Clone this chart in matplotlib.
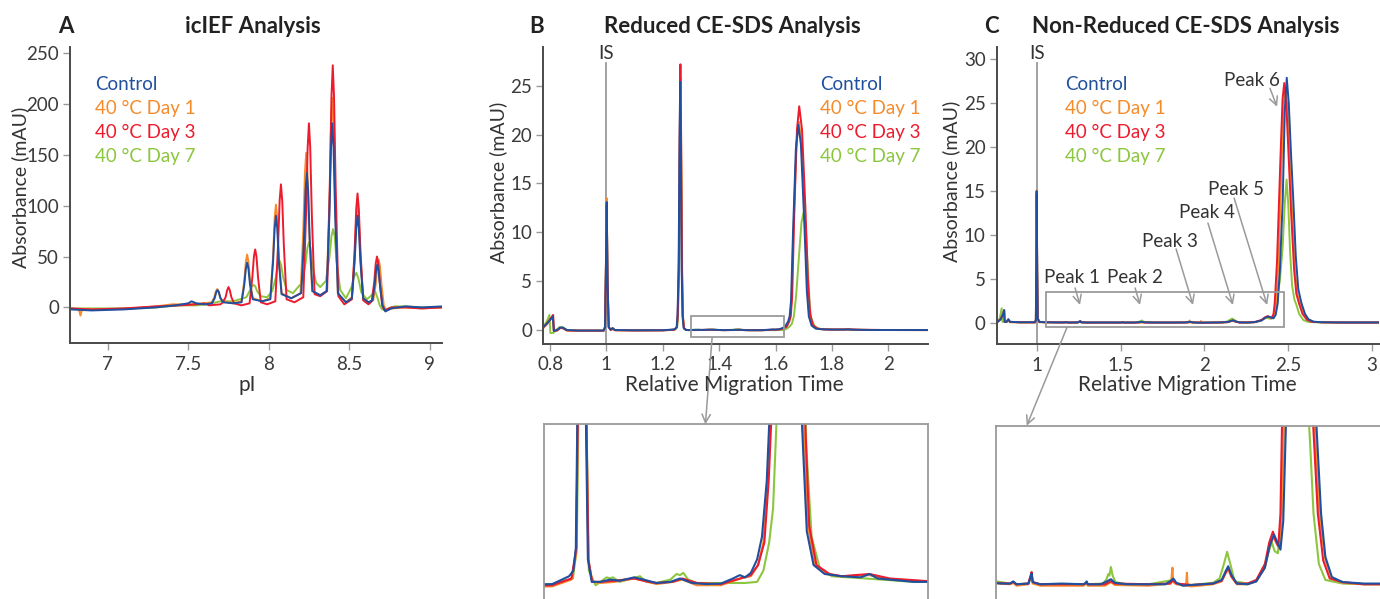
import matplotlib
matplotlib.use("Agg")
import matplotlib.pyplot as plt
import matplotlib.patches as patches
from matplotlib.patches import ConnectionPatch
from matplotlib.ticker import FuncFormatter
import numpy as np

plt.rcParams["font.family"] = ["Lato", "DejaVu Sans"]

W, H = 1380, 599

SERIES = ["Control", "40 °C Day 1", "40 °C Day 3", "40 °C Day 7"]
COLORS = {
    "Control": "#1f4f9e",
    "40 °C Day 1": "#f68b2c",
    "40 °C Day 3": "#ec1c2e",
    "40 °C Day 7": "#8cc63f",
}
DRAW_ORDER = ["40 °C Day 7", "40 °C Day 1", "40 °C Day 3", "Control"]
GRAY = "#9a9a9a"
TEXT = "#333333"

# ---- icIEF traces (pI, mAU) ----
ICIEF_CONTROL = [(6.77, -2), (6.90, -3), (7.10, -2), (7.30, 0), (7.42, 2), (7.50, 4), (7.52, 6), (7.55, 4),
                 (7.60, 3), (7.647, 4), (7.664, 9), (7.674, 15), (7.682, 17), (7.690, 15), (7.700, 9),
                 (7.717, 5), (7.78, 4), (7.831, 5), (7.848, 22), (7.858, 38), (7.866, 44), (7.874, 38),
                 (7.884, 22), (7.901, 8), (7.96, 6), (8.010, 8), (8.027, 45), (8.037, 78), (8.045, 90),
                 (8.053, 78), (8.063, 45), (8.080, 13), (8.14, 9), (8.202, 14), (8.219, 66), (8.229, 115),
                 (8.237, 132), (8.245, 115), (8.255, 66), (8.272, 16), (8.32, 12), (8.360, 16), (8.377, 90),
                 (8.387, 157), (8.395, 181), (8.403, 157), (8.413, 90), (8.430, 14), (8.48, 5), (8.517, 9),
                 (8.534, 45), (8.544, 78), (8.552, 90), (8.560, 78), (8.570, 45), (8.587, 9), (8.62, 5),
                 (8.645, 7), (8.658, 21), (8.667, 36), (8.675, 42), (8.683, 36), (8.692, 21), (8.707, 2),
                 (8.725, -4), (8.76, -1), (8.85, 1), (8.95, 0), (9.08, 1)]
ICIEF_DAY1 = [(6.77, -1), (6.82, -2), (6.83, -8), (6.84, -2), (6.95, -2), (7.15, -1), (7.30, 1), (7.40, 3),
              (7.50, 3), (7.60, 4), (7.645, 5), (7.662, 10), (7.672, 16), (7.680, 18), (7.688, 16),
              (7.698, 10), (7.715, 6), (7.78, 4), (7.831, 6), (7.848, 26), (7.858, 45), (7.866, 52),
              (7.874, 45), (7.884, 26), (7.901, 9), (7.96, 6), (8.010, 9), (8.027, 50), (8.037, 88),
              (8.045, 101), (8.053, 88), (8.063, 50), (8.080, 14), (8.14, 9), (8.198, 14), (8.215, 76),
              (8.225, 132), (8.233, 152), (8.241, 132), (8.251, 76), (8.270, 16), (8.32, 12), (8.360, 16),
              (8.377, 103), (8.387, 179), (8.395, 206), (8.403, 179), (8.413, 103), (8.430, 13), (8.48, 5),
              (8.517, 10), (8.534, 50), (8.544, 86), (8.552, 99), (8.560, 86), (8.570, 50), (8.587, 9),
              (8.62, 5), (8.650, 7), (8.666, 24), (8.675, 41), (8.683, 47), (8.691, 41), (8.700, 24),
              (8.715, 2), (8.73, -3), (8.77, -1), (8.85, 0), (8.95, -1), (9.08, 0)]
ICIEF_DAY3 = [(6.77, -1), (6.90, -2), (7.10, -1), (7.30, 1), (7.45, 2), (7.55, 3), (7.60, 4), (7.63, 2),
              (7.70, 3), (7.715, 5), (7.732, 10), (7.742, 17), (7.750, 20), (7.758, 17), (7.768, 10),
              (7.785, 4), (7.83, 2), (7.881, 4), (7.898, 29), (7.908, 50), (7.916, 57), (7.924, 50),
              (7.934, 29), (7.951, 5), (7.99, 3), (8.041, 6), (8.058, 61), (8.068, 105), (8.076, 121),
              (8.084, 105), (8.094, 61), (8.111, 8), (8.16, 5), (8.215, 10), (8.232, 91), (8.242, 157),
              (8.250, 181), (8.258, 157), (8.268, 91), (8.285, 13), (8.32, 11), (8.363, 16), (8.380, 119),
              (8.390, 207), (8.398, 238), (8.406, 207), (8.416, 119), (8.433, 11), (8.47, 3), (8.517, 8),
              (8.534, 56), (8.544, 97), (8.552, 112), (8.560, 97), (8.570, 56), (8.587, 7), (8.62, 3),
              (8.640, 6), (8.656, 25), (8.665, 43), (8.673, 50), (8.681, 43), (8.690, 25), (8.705, 2),
              (8.72, -3), (8.76, 0), (8.85, 0), (8.95, -1), (9.08, 0)]
ICIEF_DAY7 = [(6.77, -1), (6.90, -1), (7.10, -1), (7.30, 0), (7.45, 2), (7.55, 2), (7.62, 3), (7.70, 6),
              (7.78, 6), (7.861, 10), (7.884, 17), (7.896, 21), (7.906, 22), (7.916, 21), (7.928, 16),
              (7.95, 11), (7.99, 10), (8.022, 16), (8.045, 30), (8.057, 42), (8.067, 46), (8.077, 42),
              (8.089, 30), (8.112, 17), (8.15, 14), (8.205, 24), (8.228, 42), (8.240, 58), (8.25, 64),
              (8.26, 58), (8.272, 40), (8.295, 24), (8.32, 20), (8.355, 26), (8.378, 50), (8.390, 70),
              (8.40, 77), (8.41, 70), (8.422, 45), (8.445, 17), (8.48, 9), (8.515, 20), (8.530, 30),
              (8.545, 34), (8.558, 28), (8.575, 15), (8.61, 8), (8.64, 12), (8.66, 16), (8.675, 10),
              (8.69, 2), (8.705, -2), (8.73, -2), (8.78, 1), (8.85, 1), (8.95, 0), (9.08, 0)]

# ---- reduced CE-SDS traces (relative migration time, mAU) ----
RED_CONTROL = [(0.776, 0.3), (0.79, 0.7), (0.805, 1.2), (0.810, 1.4), (0.813, -0.1), (0.825, 0.0),
               (0.835, 0.25), (0.845, 0.25), (0.86, 0.0), (0.90, -0.05), (0.990, -0.05), (0.995, 0.3),
               (0.998, 6.0), (1.001, 13.1), (1.004, 5.0), (1.008, 0.3), (1.015, 0.05), (1.022, 0.2),
               (1.03, 0.0), (1.10, -0.03), (1.20, -0.02), (1.235, 0.05), (1.244, 0.1), (1.249, 0.3),
               (1.252, 1.4), (1.256, 6), (1.259, 18), (1.2615, 25.4), (1.264, 18), (1.267, 6), (1.270, 1.4),
               (1.274, 0.2), (1.282, 0.0), (1.30, 0.0), (1.32, 0.02), (1.34, 0.01), (1.37, 0.04),
               (1.39, 0.02), (1.416, -0.01), (1.445, 0.0), (1.465, 0.03), (1.49, -0.01), (1.52, -0.02),
               (1.55, -0.015), (1.575, 0.03), (1.589, 0.06), (1.600, 0.04), (1.612, 0.08), (1.625, 0.2),
               (1.635, 0.4), (1.645, 0.9), (1.650, 1.4), (1.655, 3.0), (1.662, 10.0), (1.672, 18.5),
               (1.681, 21.0), (1.690, 19.0), (1.702, 11.0), (1.711, 4.0), (1.718, 1.4), (1.728, 0.45),
               (1.742, 0.15), (1.765, 0.07), (1.80, 0.05), (1.84, 0.04), (1.858, 0.07), (1.875, 0.03),
               (1.95, 0.0), (2.05, 0.0), (2.142, 0.0)]
RED_DAY1 = [(0.776, 0.2), (0.79, 0.6), (0.805, 1.2), (0.810, 1.4), (0.813, -0.1), (0.825, -0.05),
            (0.835, 0.2), (0.845, 0.2), (0.86, -0.05), (0.90, -0.08), (0.990, -0.08), (0.995, 0.3),
            (0.998, 6.5), (1.001, 13.5), (1.004, 5.2), (1.008, 0.3), (1.015, 0.0), (1.022, 0.1),
            (1.03, -0.03), (1.10, -0.05), (1.20, -0.04), (1.240, 0.02), (1.250, 0.25), (1.253, 1.4),
            (1.257, 6.5), (1.260, 19), (1.2625, 25.8), (1.265, 19), (1.268, 6), (1.271, 1.4), (1.275, 0.2),
            (1.283, 0.0), (1.30, -0.01), (1.33, 0.0), (1.37, 0.03), (1.40, 0.0), (1.416, -0.02),
            (1.45, 0.0), (1.47, 0.02), (1.50, -0.03), (1.55, -0.03), (1.59, 0.03), (1.612, 0.05),
            (1.627, 0.15), (1.638, 0.35), (1.647, 0.9), (1.652, 1.4), (1.657, 3.2), (1.664, 10.5),
            (1.674, 19.0), (1.683, 21.3), (1.692, 19.2), (1.704, 11.2), (1.713, 4.2), (1.720, 1.5),
            (1.730, 0.5), (1.745, 0.15), (1.77, 0.07), (1.80, 0.05), (1.858, 0.06), (1.90, 0.02),
            (2.0, 0.0), (2.142, -0.02)]
RED_DAY3 = [(0.776, 0.3), (0.79, 0.7), (0.805, 1.3), (0.811, 1.55), (0.814, -0.1), (0.825, -0.05),
            (0.835, 0.2), (0.845, 0.2), (0.86, -0.05), (0.90, -0.06), (0.990, -0.06), (0.995, 0.3),
            (0.998, 6.0), (1.001, 12.8), (1.004, 5.0), (1.008, 0.3), (1.015, 0.0), (1.022, 0.15),
            (1.03, -0.02), (1.10, -0.04), (1.20, -0.03), (1.240, 0.03), (1.250, 0.3), (1.253, 1.5),
            (1.257, 7.0), (1.260, 20), (1.2625, 27.2), (1.265, 20), (1.268, 6.5), (1.271, 1.5),
            (1.275, 0.2), (1.283, 0.0), (1.30, 0.0), (1.33, 0.01), (1.37, 0.03), (1.40, 0.0),
            (1.416, -0.01), (1.45, 0.0), (1.47, 0.03), (1.50, -0.01), (1.55, -0.02), (1.59, 0.03),
            (1.612, 0.06), (1.627, 0.15), (1.640, 0.35), (1.649, 0.9), (1.654, 1.4), (1.659, 3.4),
            (1.666, 11.5), (1.676, 20.5), (1.684, 22.9), (1.694, 20.5), (1.706, 12.5), (1.715, 5.0),
            (1.723, 1.6), (1.733, 0.5), (1.748, 0.15), (1.775, 0.07), (1.80, 0.05), (1.858, 0.07),
            (1.90, 0.03), (2.0, 0.0), (2.142, 0.0)]
RED_DAY7 = [(0.776, 0.3), (0.790, 1.0), (0.798, 1.55), (0.801, -0.3), (0.812, -0.3), (0.818, -0.05),
            (0.835, 0.3), (0.845, 0.3), (0.86, 0.0), (0.90, -0.05), (0.990, -0.05), (0.995, 0.3),
            (0.998, 6.0), (1.001, 12.8), (1.004, 5.0), (1.008, 0.3), (1.015, 0.05), (1.022, 0.2),
            (1.03, 0.0), (1.10, -0.03), (1.20, -0.02), (1.243, 0.03), (1.251, 0.3), (1.254, 1.4),
            (1.258, 6.0), (1.261, 16), (1.263, 21.5), (1.266, 16), (1.269, 5.5), (1.272, 1.2),
            (1.276, 0.1), (1.290, -0.03), (1.300, 0.0), (1.313, 0.04), (1.320, 0.03), (1.326, 0.04),
            (1.34, 0.0), (1.365, 0.03), (1.382, 0.05), (1.395, 0.0), (1.416, -0.01), (1.445, 0.02),
            (1.458, 0.07), (1.465, 0.06), (1.472, 0.08), (1.482, 0.02), (1.50, -0.01), (1.55, -0.01),
            (1.60, -0.01), (1.625, 0.0), (1.638, 0.1), (1.650, 0.35), (1.658, 0.65), (1.665, 1.4),
            (1.673, 3.5), (1.683, 7.5), (1.692, 11.0), (1.699, 12.0), (1.707, 10.5), (1.715, 6.0),
            (1.722, 2.2), (1.727, 1.2), (1.738, 0.4), (1.755, 0.12), (1.78, 0.05), (1.85, 0.03),
            (1.95, 0.0), (2.05, 0.0), (2.142, 0.0)]

# ---- non-reduced CE-SDS traces ----
NR_CONTROL = [(0.761, 0.0), (0.785, 0.4), (0.800, 1.0), (0.806, 1.45), (0.809, 0.1), (0.82, 0.1),
              (0.831, 0.4), (0.84, 0.1), (0.90, 0.05), (0.990, 0.05), (0.995, 0.3), (0.998, 7.0),
              (1.000, 15.0), (1.003, 6.0), (1.006, 0.5), (1.015, 0.1), (1.05, 0.05), (1.12, 0.03),
              (1.160, 0.03), (1.175, 0.06), (1.19, 0.02), (1.245, 0.03), (1.255, 0.12), (1.260, 0.17),
              (1.265, 0.05), (1.30, 0.02), (1.40, 0.03), (1.50, 0.02), (1.510, 0.04), (1.515, 0.06),
              (1.52, 0.02), (1.58, 0.02), (1.615, 0.07), (1.627, 0.09), (1.645, 0.04), (1.70, 0.02),
              (1.80, 0.02), (1.88, 0.02), (1.905, 0.07), (1.916, 0.1), (1.93, 0.04), (1.96, 0.0),
              (2.00, 0.01), (2.10, 0.03), (2.14, 0.08), (2.158, 0.2), (2.170, 0.27), (2.185, 0.15),
              (2.21, 0.03), (2.26, 0.02), (2.30, 0.06), (2.34, 0.25), (2.362, 0.55), (2.382, 0.71),
              (2.398, 0.6), (2.412, 0.5), (2.425, 0.9), (2.437, 2.2), (2.45, 6.0), (2.467, 14.0),
              (2.479, 24.0), (2.491, 27.9), (2.503, 25.0), (2.517, 19.0), (2.530, 14.0), (2.545, 7.5),
              (2.56, 3.8), (2.579, 2.2), (2.60, 1.0), (2.62, 0.4), (2.65, 0.12), (2.70, 0.05),
              (2.80, 0.03), (2.90, 0.03), (3.04, 0.03)]
NR_DAY1 = [(0.761, 0.0), (0.785, 0.4), (0.800, 1.0), (0.806, 1.4), (0.809, 0.1), (0.82, 0.05),
           (0.831, 0.35), (0.84, 0.05), (0.90, 0.02), (0.990, 0.02), (0.995, 0.3), (0.998, 7.0),
           (1.000, 15.1), (1.003, 6.0), (1.006, 0.5), (1.015, 0.05), (1.16, 0.02), (1.175, 0.04),
           (1.19, 0.0), (1.245, 0.02), (1.255, 0.11), (1.260, 0.15), (1.265, 0.03), (1.30, 0.0),
           (1.50, 0.0), (1.515, 0.03), (1.52, 0.0), (1.60, 0.0), (1.627, 0.05), (1.645, 0.01),
           (1.80, 0.0), (1.905, 0.03), (1.912, 0.25), (1.915, 0.05), (1.93, 0.02), (1.975, 0.0),
           (1.979, 0.18), (1.982, 0.0), (2.00, -0.01), (2.10, 0.02), (2.14, 0.06), (2.158, 0.17),
           (2.170, 0.23), (2.185, 0.12), (2.21, 0.02), (2.26, 0.02), (2.30, 0.06), (2.34, 0.25),
           (2.362, 0.55), (2.380, 0.68), (2.395, 0.58), (2.407, 0.52), (2.418, 1.0), (2.428, 2.2),
           (2.442, 7.0), (2.460, 18.0), (2.473, 25.0), (2.483, 26.8), (2.495, 24.5), (2.509, 18.5),
           (2.523, 12.5), (2.540, 6.0), (2.555, 3.2), (2.571, 2.2), (2.592, 1.0), (2.62, 0.35),
           (2.65, 0.1), (2.70, 0.04), (2.80, 0.02), (3.04, 0.02)]
NR_DAY3 = [(0.761, 0.0), (0.785, 0.4), (0.800, 1.0), (0.806, 1.4), (0.809, 0.1), (0.82, 0.1),
           (0.831, 0.35), (0.84, 0.1), (0.90, 0.05), (0.990, 0.05), (0.995, 0.3), (0.998, 7.0),
           (1.000, 14.8), (1.003, 6.0), (1.006, 0.5), (1.015, 0.1), (1.05, 0.04), (1.16, 0.03),
           (1.175, 0.05), (1.19, 0.02), (1.245, 0.03), (1.255, 0.14), (1.260, 0.19), (1.265, 0.05),
           (1.30, 0.02), (1.50, 0.02), (1.515, 0.04), (1.52, 0.02), (1.60, 0.02), (1.627, 0.06),
           (1.645, 0.03), (1.80, 0.02), (1.90, 0.03), (1.916, 0.08), (1.93, 0.03), (2.00, 0.01),
           (2.10, 0.03), (2.14, 0.07), (2.158, 0.18), (2.170, 0.25), (2.185, 0.13), (2.21, 0.03),
           (2.26, 0.03), (2.30, 0.08), (2.34, 0.3), (2.36, 0.6), (2.377, 0.75), (2.390, 0.62),
           (2.402, 0.55), (2.412, 1.0), (2.419, 2.2), (2.433, 7.0), (2.452, 18.0), (2.466, 25.5),
           (2.476, 27.3), (2.488, 25.0), (2.502, 19.0), (2.517, 12.5), (2.535, 6.0), (2.548, 3.3),
           (2.564, 2.2), (2.585, 1.0), (2.61, 0.35), (2.64, 0.1), (2.70, 0.05), (2.80, 0.02),
           (3.04, 0.02)]
NR_DAY7 = [(0.761, 0.0), (0.780, 0.5), (0.791, 1.64), (0.795, 0.1), (0.82, 0.1), (0.831, 0.35),
           (0.84, 0.1), (0.90, 0.05), (0.990, 0.05), (0.995, 0.3), (0.998, 7.0), (1.000, 14.5),
           (1.003, 6.0), (1.006, 0.5), (1.015, 0.1), (1.16, 0.03), (1.175, 0.05), (1.19, 0.02),
           (1.245, 0.03), (1.255, 0.11), (1.260, 0.15), (1.265, 0.04), (1.30, 0.02), (1.50, 0.02),
           (1.515, 0.04), (1.52, 0.02), (1.59, 0.03), (1.605, 0.08), (1.615, 0.16), (1.620, 0.14),
           (1.627, 0.26), (1.635, 0.14), (1.648, 0.05), (1.70, 0.02), (1.80, 0.02), (1.916, 0.08),
           (1.93, 0.03), (2.00, 0.01), (2.10, 0.04), (2.13, 0.1), (2.150, 0.3), (2.165, 0.47),
           (2.180, 0.3), (2.20, 0.06), (2.26, 0.03), (2.30, 0.06), (2.34, 0.3), (2.36, 0.5),
           (2.372, 0.6), (2.385, 0.48), (2.40, 0.45), (2.415, 0.9), (2.428, 2.2), (2.45, 4.8),
           (2.466, 8.5), (2.479, 13.5), (2.490, 16.3), (2.500, 13.5), (2.511, 8.0), (2.523, 4.2),
           (2.537, 2.6), (2.549, 2.0), (2.565, 1.0), (2.59, 0.3), (2.62, 0.08), (2.70, 0.03),
           (2.80, 0.02), (3.04, 0.02)]

ICIEF = dict(zip(SERIES, [ICIEF_CONTROL, ICIEF_DAY1, ICIEF_DAY3, ICIEF_DAY7]))
REDUCED = dict(zip(SERIES, [RED_CONTROL, RED_DAY1, RED_DAY3, RED_DAY7]))
NONREDUCED = dict(zip(SERIES, [NR_CONTROL, NR_DAY1, NR_DAY3, NR_DAY7]))

PEAK_NAMES = ["Peak 1", "Peak 2", "Peak 3", "Peak 4", "Peak 5", "Peak 6"]

TICK_FS = 13.5
YLABEL_FS = 14
XLABEL_FS = 15
TITLE_FS = 16
LEGEND_FS = 13.5


def box(left, top, right, bottom):
    # pixel box (origin top-left) -> figure fraction rect
    return [left / W, 1 - bottom / H, (right - left) / W, (bottom - top) / H]


def fpx(x, y):
    return x / W, 1 - y / H


def style_axes(ax):
    for s in ["top", "right"]:
        ax.spines[s].set_visible(False)
    for s in ["left", "bottom"]:
        ax.spines[s].set_color("#4a4a4a")
        ax.spines[s].set_linewidth(1.4)
    ax.tick_params(direction="out", length=5, width=1, color=GRAY,
                   labelcolor="#3a3a3a", labelsize=TICK_FS)
    ax.tick_params(axis="x", pad=4)
    ax.tick_params(axis="y", pad=3)
    fmt = FuncFormatter(lambda v, p: f"{v:g}")
    ax.xaxis.set_major_formatter(fmt)
    ax.yaxis.set_major_formatter(fmt)


def draw_traces(ax, traces, lw=1.4):
    for s in DRAW_ORDER:
        xy = np.array(traces[s])
        ax.plot(xy[:, 0], xy[:, 1], color=COLORS[s], lw=lw, solid_joinstyle="round")


def legend(fig, x, y0):
    for i, s in enumerate(SERIES):
        fig.text(*fpx(x, y0 + 24 * i), s, color=COLORS[s], fontsize=LEGEND_FS, va="baseline", ha="left")


def panel_titles(fig, letter, lx, title, tx):
    fig.text(*fpx(lx, 33), letter, fontsize=TITLE_FS, fontweight="bold", ha="center", va="baseline",
             color="#222222")
    fig.text(*fpx(tx, 33), title, fontsize=TITLE_FS, fontweight="bold", ha="center", va="baseline",
             color="#222222")


def axis_labels(fig, yx, yy, ytext, xx, xtext):
    fig.text(*fpx(yx, yy), ytext, rotation=90, fontsize=YLABEL_FS, ha="center", va="center", color=TEXT)
    fig.text(*fpx(xx, 391), xtext, fontsize=XLABEL_FS, ha="center", va="baseline", color=TEXT)


def inset_frame(ax):
    ax.set_xticks([])
    ax.set_yticks([])
    for s in ax.spines.values():
        s.set_color(GRAY)
        s.set_linewidth(1.3)


fig = plt.figure(figsize=(13.8, 5.99), dpi=100)

# ---------------- A: icIEF ----------------
axA = fig.add_axes(box(70, 47, 442, 343))
draw_traces(axA, ICIEF)
axA.set_xlim(6.765, 9.077)
axA.set_ylim(-35, 256)
axA.set_xticks([7, 7.5, 8, 8.5, 9])
axA.set_yticks([0, 50, 100, 150, 200, 250])
style_axes(axA)
panel_titles(fig, "A", 66, "icIEF Analysis", 253)
axis_labels(fig, 20, 187, "Absorbance (mAU)", 247, "pI")
legend(fig, 95, 90)

# ---------------- B: reduced CE-SDS ----------------
axB = fig.add_axes(box(543.3, 46.7, 928.3, 344))
draw_traces(axB, REDUCED)
axB.set_xlim(0.776, 2.142)
axB.set_ylim(-1.43, 29.0)
axB.set_xticks([0.8, 1.0, 1.2, 1.4, 1.6, 1.8, 2.0])
axB.set_yticks([0, 5, 10, 15, 20, 25])
style_axes(axB)
axB.axvline(1.0, ymin=0, ymax=0.945, color=GRAY, lw=1.3, zorder=0)
axB.text(1.0, 0.978, "IS", transform=axB.get_xaxis_transform(), ha="center", va="center",
         fontsize=LEGEND_FS, color=TEXT)
axB.add_patch(patches.Rectangle((1.299, -0.75), 0.332, 2.18, fill=False, ec=GRAY, lw=1.3, zorder=5))
panel_titles(fig, "B", 537, "Reduced CE-SDS Analysis", 732)
axis_labels(fig, 498, 182, "Absorbance (mAU)", 734, "Relative Migration Time")
legend(fig, 820, 90)

insB = fig.add_axes(box(544, 424.3, 928.3, 610))
draw_traces(insB, REDUCED, lw=1.5)
insB.set_xlim(1.183, 1.980)
insB.set_ylim(-0.25, 1.4)
inset_frame(insB)
con = ConnectionPatch(xyA=(1.375, -0.75), coordsA=axB.transData, xyB=(0.42, 1.0), coordsB=insB.transAxes,
                      arrowstyle="->,head_length=0.6,head_width=0.3", color=GRAY, lw=1.1)
fig.add_artist(con)

# ---------------- C: non-reduced CE-SDS ----------------
axC = fig.add_axes(box(996.7, 46.7, 1379, 344.3))
draw_traces(axC, NONREDUCED)
axC.set_xlim(0.7615, 3.041)
axC.set_ylim(-2.46, 31.44)
axC.set_xticks([1, 1.5, 2, 2.5, 3])
axC.set_yticks([0, 5, 10, 15, 20, 25, 30])
style_axes(axC)
axC.axvline(1.0, ymin=0, ymax=0.946, color=GRAY, lw=1.3, zorder=0)
axC.text(1.0, 0.978, "IS", transform=axC.get_xaxis_transform(), ha="center", va="center",
         fontsize=LEGEND_FS, color=TEXT)
axC.add_patch(patches.Rectangle((1.054, -0.52), 1.421, 3.98, fill=False, ec=GRAY, lw=1.3, zorder=5))

# label centre, arrow start, arrow tip (data coords)
peak_marks = [((1.211, 5.2), (1.229, 3.95), (1.258, 2.02)),
              ((1.586, 5.2), (1.587, 3.95), (1.616, 2.02)),
              ((1.796, 9.2), (1.831, 8.4), (1.932, 2.02)),
              ((2.013, 12.5), (2.021, 11.35), (2.170, 2.02)),
              ((2.191, 15.2), (2.177, 14.2), (2.374, 2.02)),
              ((2.281, 27.6), (2.391, 26.7), (2.433, 24.6))]
for name, (txt, start, tip) in zip(PEAK_NAMES, peak_marks):
    axC.text(txt[0], txt[1], name, ha="center", va="center", fontsize=LEGEND_FS, color=TEXT)
    axC.annotate("", xy=tip, xytext=start,
                 arrowprops=dict(arrowstyle="->,head_length=0.6,head_width=0.3", color=GRAY, lw=1.1,
                                 shrinkA=0, shrinkB=0))

panel_titles(fig, "C", 991.5, "Non-Reduced CE-SDS Analysis", 1186)
axis_labels(fig, 951.5, 181, "Absorbance (mAU)", 1187, "Relative Migration Time")
legend(fig, 1065, 90)

insC = fig.add_axes(box(996, 425.7, 1385, 610))
draw_traces(insC, NONREDUCED, lw=1.5)
insC.set_xlim(1.095, 2.896)
insC.set_ylim(-0.337, 2.22)
inset_frame(insC)
con = ConnectionPatch(xyA=(1.181, -0.52), coordsA=axC.transData, xyB=(0.079, 1.0), coordsB=insC.transAxes,
                      arrowstyle="->,head_length=0.6,head_width=0.3", color=GRAY, lw=1.1)
fig.add_artist(con)

fig.savefig("out.png", dpi=100)
